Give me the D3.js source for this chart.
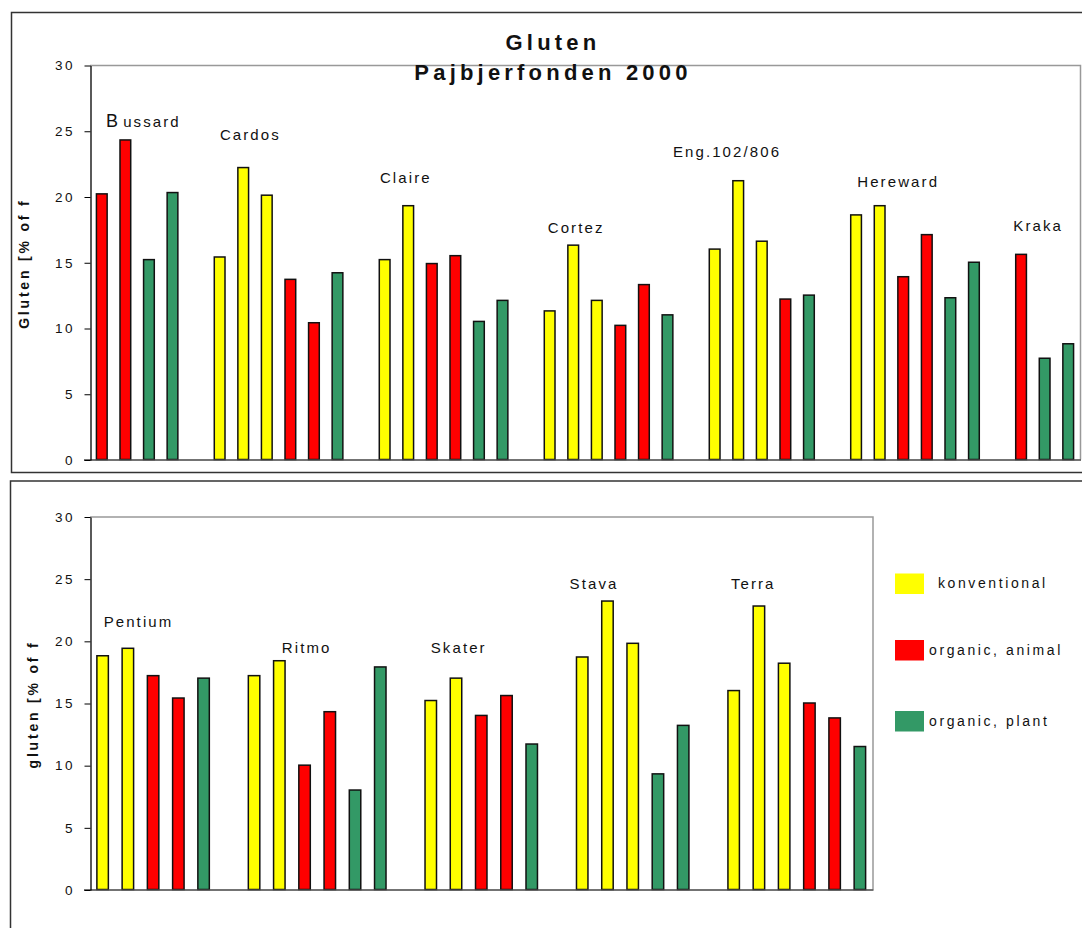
<!DOCTYPE html>
<html><head><meta charset="utf-8">
<script src="https://cdn.jsdelivr.net/npm/d3@7"></script>
<style>
body{margin:0;background:#fff}
svg{display:block}
text{font-family:"Liberation Sans",Arial,sans-serif;fill:#111}
</style>
</head><body><svg id="c" width="1082" height="928"></svg>
<script>
// ---------- data ----------
const titleLines = ["Gluten", "Pajbjerfonden 2000"];
const seriesNames = ["konventional", "organic, animal", "organic, plant"];
const yTicks = [0, 5, 10, 15, 20, 25, 30];
const yTitles = ["Gluten [% of f", "gluten [% of f"];

const topVarieties = ["Bussard", "Cardos", "Claire", "Cortez", "Eng.102/806", "Hereward", "Kraka"];
// series index of each bar (0 konventional, 1 organic animal, 2 organic plant)
const topTreatments = [
  [1, 1, 2, 2],
  [0, 0, 0, 1, 1, 2],
  [0, 0, 1, 1, 2, 2],
  [0, 0, 0, 1, 1, 2],
  [0, 0, 0, 1, 2],
  [0, 0, 1, 1, 2, 2],
  [1, 2, 2]
];
const topValues = [
  [20.2, 24.3, 15.2, 20.3],
  [15.4, 22.2, 20.1, 13.7, 10.4, 14.2],
  [15.2, 19.3, 14.9, 15.5, 10.5, 12.1],
  [11.3, 16.3, 12.1, 10.2, 13.3, 11.0],
  [16.0, 21.2, 16.6, 12.2, 12.5],
  [18.6, 19.3, 13.9, 17.1, 12.3, 15.0],
  [15.6, 7.7, 8.8]
];

const bottomVarieties = ["Pentium", "Ritmo", "Skater", "Stava", "Terra"];
const bottomTreatments = [
  [0, 0, 1, 1, 2],
  [0, 0, 1, 1, 2, 2],
  [0, 0, 1, 1, 2],
  [0, 0, 0, 2, 2],
  [0, 0, 0, 1, 1, 2]
];
const bottomValues = [
  [18.8, 19.4, 17.2, 15.4, 17.0],
  [17.2, 18.4, 10.0, 14.3, 8.0, 17.9],
  [15.2, 17.0, 14.0, 15.6, 11.7],
  [18.7, 23.2, 19.8, 9.3, 13.2],
  [16.0, 22.8, 18.2, 15.0, 13.8, 11.5]
];

// ---------- layout / style ----------
const colors = ["#ffff00", "#ff0000", "#339966"];
// variety label anchor: [offset in slots from group start, y in data units]
const topLabelLayout = [[0.68, 25.3], [0.51, 24.3], [0.30, 21.0], [0.42, 17.2], [-1.27, 23.0], [0.55, 20.7], [0.17, 17.4]];
const bottomLabelLayout = [[0.54, 21.1], [1.6, 19.0], [0.5, 19.0], [0.0, 24.2], [0.39, 24.2]];

const svg = d3.select("#c");

// outer frames
svg.append("rect").attr("x", 11.5).attr("y", 12.5).attr("width", 1081).attr("height", 460)
  .attr("fill", "none").attr("stroke", "#333").attr("stroke-width", 1.5);
svg.append("rect").attr("x", 10.5).attr("y", 481).attr("width", 1090).attr("height", 470)
  .attr("fill", "none").attr("stroke", "#333").attr("stroke-width", 1.5);

function panel(cfg) {
  const g = svg.append("g");
  // slots: bars + one empty slot between groups
  const bars = [];
  const groupStart = [];
  let slot = 0;
  cfg.treatments.forEach((tr, gi) => {
    groupStart.push(slot);
    tr.forEach((s, bi) => {
      bars.push({slot: slot, series: s, value: cfg.values[gi][bi]});
      slot++;
    });
    if (gi < cfg.treatments.length - 1) slot++;
  });
  const nSlots = slot;
  const pIn = 1.2 / 2.2;
  const x = d3.scaleBand().domain(d3.range(nSlots)).range([cfg.left, cfg.right])
    .paddingInner(pIn).paddingOuter(pIn / 2);
  const y = d3.scaleLinear().domain([0, 30]).range([cfg.bottom, cfg.top]);
  const step = x.step();

  // plot area border (top & right, gray)
  g.append("path")
    .attr("d", `M${cfg.left},${cfg.top + 0.5}H${cfg.right + 0.5}V${cfg.bottom}`)
    .attr("fill", "none").attr("stroke", "#999").attr("stroke-width", 1.5);

  // bars
  g.selectAll("rect.bar").data(bars).join("rect")
    .attr("class", "bar")
    .attr("x", d => x(d.slot))
    .attr("width", x.bandwidth())
    .attr("y", d => y(d.value))
    .attr("height", d => y(0) - y(d.value))
    .attr("fill", d => colors[d.series])
    .attr("stroke", "#111").attr("stroke-width", 1.5);

  // x axis line
  g.append("line").attr("x1", cfg.left - 6).attr("x2", cfg.right + 1)
    .attr("y1", y(0) + 0.5).attr("y2", y(0) + 0.5)
    .attr("stroke", "#444").attr("stroke-width", 1.5);

  // y axis
  const ax = g.append("g").attr("transform", `translate(${cfg.left + 0.5},0.5)`)
    .call(d3.axisLeft(y).tickValues(yTicks).tickSize(6).tickSizeOuter(0).tickPadding(9.5));
  ax.select(".domain").attr("stroke", "#000").attr("stroke-width", 1.3);
  ax.selectAll(".tick line").attr("stroke", "#000").attr("stroke-width", 1);
  ax.selectAll(".tick text").attr("font-size", 13.5).attr("letter-spacing", 2.5)
    .attr("font-family", "Liberation Sans, Arial, sans-serif").attr("fill", "#111");

  // y title
  g.append("text")
    .attr("transform", `translate(${cfg.yTitleX},${(cfg.top + cfg.bottom) / 2 + 1.5}) rotate(-90)`)
    .attr("text-anchor", "middle").attr("font-weight", "bold").attr("font-size", 14)
    .attr("letter-spacing", 2.8).text(cfg.yTitle);

  // variety labels
  cfg.varieties.forEach((name, gi) => {
    const [dx, vy] = cfg.labelLayout[gi];
    const sx = x(groupStart[gi]) - step * (pIn / 2) + dx * step;
    const t = g.append("text").attr("x", sx).attr("y", y(vy))
      .attr("font-size", 15).attr("letter-spacing", 2.1);
    if (cfg.bigInitial && cfg.bigInitial.has(name)) {
      t.append("tspan").attr("font-size", 18).text(name[0]);
      t.append("tspan").attr("dx", 3).text(name.slice(1));
    } else {
      t.text(name);
    }
  });
  return {x, y};
}

panel({
  left: 90, right: 1080, top: 65, bottom: 459.5,
  treatments: topTreatments, values: topValues, varieties: topVarieties,
  labelLayout: topLabelLayout, yTitle: yTitles[0], yTitleX: 29,
  bigInitial: new Set(["Bussard"])
});
panel({
  left: 90, right: 872.5, top: 516.5, bottom: 889.5,
  treatments: bottomTreatments, values: bottomValues, varieties: bottomVarieties,
  labelLayout: bottomLabelLayout, yTitle: yTitles[1], yTitleX: 38
});

// title
titleLines.forEach((line, i) => {
  svg.append("text").attr("x", 551 + 2).attr("y", i === 0 ? 50 : 80)
    .attr("text-anchor", "middle").attr("font-weight", "bold")
    .attr("font-size", 22).attr("letter-spacing", 4.2).text(line);
});

// legend
const legend = svg.append("g");
const legendY = [573.5, 640, 711];
const legendTextX = [938, 929, 929];
seriesNames.forEach((name, i) => {
  legend.append("rect").attr("x", 895).attr("y", legendY[i]).attr("width", 29).attr("height", 20.5)
    .attr("fill", colors[i]);
  legend.append("text").attr("x", legendTextX[i]).attr("y", legendY[i] + 14.5)
    .attr("font-size", 14).attr("letter-spacing", 2.6).text(name);
});
</script>
</body></html>
